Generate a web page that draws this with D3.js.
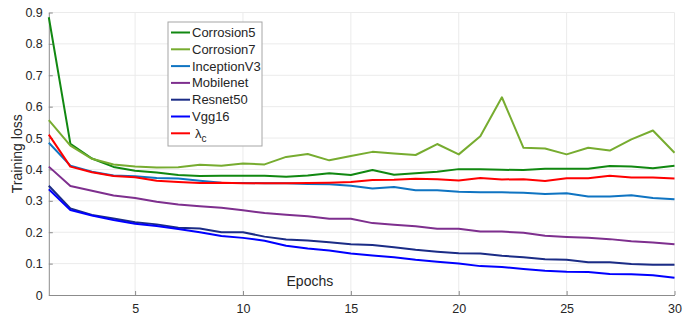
<!DOCTYPE html>
<html>
<head>
<meta charset="utf-8">
<script src="https://cdn.jsdelivr.net/npm/d3@7"></script>
<style>
  body { margin: 0; background: #fff; }
  text { font-family: "Liberation Sans", Arial, sans-serif; fill: #262626; }
</style>
</head>
<body>
<div id="chart"></div>
<script>
// epochs 1..30
const epochs = d3.range(1, 31);

const corrosion5 = [0.885, 0.482, 0.435, 0.408, 0.396, 0.390, 0.382, 0.379, 0.380, 0.380,
  0.380, 0.377, 0.381, 0.388, 0.382, 0.398, 0.383, 0.388, 0.393, 0.401,
  0.401, 0.399, 0.398, 0.402, 0.402, 0.402, 0.411, 0.409, 0.404, 0.412];
const corrosion7 = [0.557, 0.476, 0.434, 0.416, 0.409, 0.406, 0.407, 0.415, 0.412, 0.419,
  0.416, 0.440, 0.449, 0.429, 0.443, 0.456, 0.451, 0.446, 0.481, 0.448,
  0.506, 0.630, 0.469, 0.467, 0.448, 0.469, 0.460, 0.496, 0.524, 0.453];
const inceptionV3 = [0.485, 0.412, 0.393, 0.381, 0.378, 0.373, 0.371, 0.364, 0.358, 0.357,
  0.356, 0.356, 0.354, 0.353, 0.348, 0.339, 0.344, 0.334, 0.334, 0.329,
  0.327, 0.327, 0.326, 0.322, 0.324, 0.314, 0.314, 0.318, 0.309, 0.305];
const mobilenet = [0.409, 0.347, 0.332, 0.317, 0.309, 0.297, 0.288, 0.283, 0.278, 0.270,
  0.261, 0.256, 0.251, 0.243, 0.243, 0.229, 0.224, 0.219, 0.211, 0.211,
  0.202, 0.202, 0.198, 0.189, 0.185, 0.182, 0.178, 0.171, 0.167, 0.162];
const resnet50 = [0.348, 0.276, 0.255, 0.244, 0.232, 0.225, 0.214, 0.212, 0.200, 0.200,
  0.186, 0.177, 0.174, 0.168, 0.162, 0.159, 0.152, 0.144, 0.138, 0.133,
  0.132, 0.125, 0.120, 0.114, 0.112, 0.104, 0.104, 0.099, 0.096, 0.096];
const vgg16 = [0.337, 0.271, 0.253, 0.239, 0.227, 0.220, 0.210, 0.200, 0.188, 0.182,
  0.173, 0.157, 0.148, 0.142, 0.132, 0.126, 0.120, 0.112, 0.106, 0.100,
  0.092, 0.089, 0.083, 0.077, 0.074, 0.073, 0.067, 0.066, 0.063, 0.055];
const lambdaC = [0.511, 0.409, 0.391, 0.379, 0.375, 0.364, 0.360, 0.357, 0.358, 0.356,
  0.356, 0.356, 0.357, 0.358, 0.360, 0.366, 0.367, 0.370, 0.369, 0.365,
  0.373, 0.368, 0.369, 0.363, 0.372, 0.372, 0.380, 0.374, 0.374, 0.371];

const seriesNames = ["Corrosion5", "Corrosion7", "InceptionV3", "Mobilenet", "Resnet50", "Vgg16", "lambda"];
const seriesValues = [corrosion5, corrosion7, inceptionV3, mobilenet, resnet50, vgg16, lambdaC];
const seriesColors = ["#118811", "#77ac30", "#0f74c2", "#7e2f8e", "#1b2c86", "#0000ff", "#ff0000"];

const xTicks = [5, 10, 15, 20, 25, 30];
const yTicks = [0, 0.1, 0.2, 0.3, 0.4, 0.5, 0.6, 0.7, 0.8, 0.9];

const W = 683, H = 316;
const margin = {top: 12.5, right: 8.5, bottom: 21, left: 48.8};
const width = W - margin.left - margin.right;
const height = H - margin.top - margin.bottom;

const svg = d3.select("#chart").append("svg")
  .attr("width", W)
  .attr("height", H);

const g = svg.append("g")
  .attr("transform", `translate(${margin.left},${margin.top})`);

const x = d3.scaleLinear().domain([1, 30]).range([0, width]);
const y = d3.scaleLinear().domain([0, 0.9]).range([height, 0]);

// grid
g.append("g").selectAll("line").data(xTicks).join("line")
  .attr("x1", d => x(d)).attr("x2", d => x(d))
  .attr("y1", 0).attr("y2", height)
  .attr("stroke", "#ebebeb").attr("stroke-width", 1);
g.append("g").selectAll("line").data(yTicks.slice(1)).join("line")
  .attr("x1", 0).attr("x2", width)
  .attr("y1", d => y(d)).attr("y2", d => y(d))
  .attr("stroke", "#ebebeb").attr("stroke-width", 1);

// axes
const xAxis = g.append("g")
  .attr("transform", `translate(0,${height})`)
  .call(d3.axisBottom(x).tickValues(xTicks).tickSizeInner(-4).tickSizeOuter(0).tickPadding(9));
const yAxis = g.append("g")
  .call(d3.axisLeft(y).tickValues(yTicks).tickFormat(d3.format("")).tickSizeInner(-4).tickSizeOuter(0).tickPadding(6));

[xAxis, yAxis].forEach(a => {
  a.select(".domain").attr("stroke", "#8c8c8c");
  a.selectAll(".tick line").attr("stroke", "#8c8c8c");
  a.selectAll("text").attr("font-size", 12.5).attr("fill", "#262626")
    .attr("font-family", "Liberation Sans, Arial, sans-serif");
});

// lines
const line = d3.line()
  .x((d, i) => x(epochs[i]))
  .y(d => y(d));

g.append("g").selectAll("path").data(seriesValues).join("path")
  .attr("d", d => line(d))
  .attr("fill", "none")
  .attr("stroke", (d, i) => seriesColors[i])
  .attr("stroke-width", 2)
  .attr("stroke-linejoin", "round");

// axis titles
g.append("text")
  .attr("x", x(13.1))
  .attr("y", height - 9)
  .attr("text-anchor", "middle")
  .attr("font-size", 14)
  .text("Epochs");

svg.append("text")
  .attr("transform", `translate(22,${margin.top + height / 2}) rotate(-90)`)
  .attr("text-anchor", "middle")
  .attr("font-size", 14)
  .text("Training loss");

// legend
const legend = svg.append("g").attr("transform", "translate(168,22)");
legend.append("rect")
  .attr("width", 94).attr("height", 124)
  .attr("fill", "#fff").attr("stroke", "#a6a6a6").attr("stroke-width", 1);

const item = legend.selectAll(".item").data(seriesNames).join("g")
  .attr("class", "item")
  .attr("transform", (d, i) => `translate(0,${10.5 + i * 16.8})`);
item.append("line")
  .attr("x1", 3).attr("x2", 22)
  .attr("stroke", (d, i) => seriesColors[i])
  .attr("stroke-width", 2);
item.filter(d => d !== "lambda").append("text")
  .attr("x", 24).attr("dy", "0.35em")
  .attr("font-size", 13)
  .text(d => d);
const lam = item.filter(d => d === "lambda").append("text")
  .attr("x", 27).attr("dy", "0.35em")
  .attr("font-size", 13);
lam.append("tspan").text("λ");
lam.append("tspan").attr("font-size", 10).attr("dy", 4).text("c");
</script>
</body>
</html>
